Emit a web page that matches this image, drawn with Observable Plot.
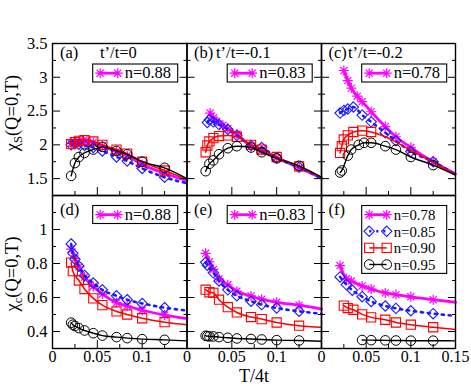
<!DOCTYPE html>
<html>
<head>
<meta charset="utf-8">
<script src="https://cdn.jsdelivr.net/npm/d3@7"></script>
<script src="https://cdn.jsdelivr.net/npm/@observablehq/plot@0.6"></script>
<style>
  html, body { margin: 0; padding: 0; background: #fff; }
  #chart { position: relative; width: 471px; height: 386px; font-family: 'Liberation Serif', serif; }
  #chart svg { position: absolute; left: 0; top: 0; }
  #chart svg, #chart svg text, #chart svg tspan { font-family: 'Liberation Serif', serif !important; }
</style>
</head>
<body>
<div id="chart"></div>
<script>
// ---------- data (T/4t, chi) ----------
// panel (a) t'/t=0, chi_S
const a_mag = [[0.0208,2.02],[0.025,2.04],[0.0294,2.05],[0.0333,2.06],[0.0385,2.06],[0.0455,2.04],[0.0556,1.98],[0.0714,1.90],[0.0833,1.84],[0.1,1.71],[0.125,1.58]];
const a_mag_end = [[0.15,1.47]];
const a_blu = [[0.0208,2.00],[0.025,2.02],[0.0294,2.01],[0.0357,1.99],[0.0455,1.96],[0.0556,1.91],[0.0714,1.82],[0.0833,1.76],[0.1,1.65],[0.125,1.52]];
const a_blu_end = [[0.15,1.43]];
const a_red = [[0.0208,2.01],[0.025,2.04],[0.0294,2.06],[0.0357,2.07],[0.0455,2.05],[0.0556,2.00],[0.0714,1.93],[0.0833,1.87],[0.1,1.75],[0.125,1.62]];
const a_red_end = [[0.15,1.49]];
const a_blk = [[0.0208,1.54],[0.025,1.73],[0.0294,1.82],[0.0357,1.88],[0.0455,1.93],[0.0556,1.97],[0.0714,1.91],[0.0833,1.86],[0.1,1.75],[0.125,1.66]];
const a_blk_end = [[0.15,1.50]];
// panel (b) t'/t=-0.1, chi_S
const b_mag = [[0.0258,2.47],[0.0294,2.40],[0.0333,2.35],[0.04,2.29],[0.0455,2.24],[0.0556,2.16],[0.0714,1.98],[0.0833,1.92],[0.1,1.81],[0.125,1.66]];
const b_mag_end = [[0.15,1.51]];
const b_blu = [[0.0227,2.33],[0.025,2.37],[0.0294,2.34],[0.0357,2.30],[0.0455,2.23],[0.0556,2.14],[0.0714,1.99],[0.0833,1.96],[0.1,1.81],[0.125,1.67]];
const b_blu_end = [[0.15,1.50]];
const b_red = [[0.0208,1.89],[0.0227,1.99],[0.025,2.05],[0.0294,2.10],[0.0357,2.13],[0.0455,2.14],[0.0556,2.12],[0.0714,2.00],[0.0833,1.93],[0.1,1.82],[0.125,1.68]];
const b_red_end = [[0.15,1.52]];
const b_blk = [[0.0208,1.61],[0.025,1.72],[0.0294,1.77],[0.0357,1.86],[0.0455,1.95],[0.0556,1.98],[0.0714,1.96],[0.0833,1.89],[0.1,1.80],[0.125,1.69]];
const b_blk_end = [[0.15,1.52]];
// panel (c) t'/t=-0.2, chi_S
const c_mag = [[0.025,3.10],[0.0294,2.95],[0.0333,2.84],[0.04,2.72],[0.0455,2.64],[0.0556,2.49],[0.0714,2.27],[0.0833,2.12],[0.1,1.96],[0.125,1.75]];
const c_mag_end = [[0.15,1.57]];
const c_blu = [[0.0208,2.47],[0.025,2.51],[0.0294,2.53],[0.0357,2.56],[0.0455,2.44],[0.0556,2.34],[0.0714,2.18],[0.0833,2.06],[0.1,1.90],[0.125,1.75]];
const c_blu_end = [[0.15,1.56]];
const c_red = [[0.0208,1.88],[0.0227,1.98],[0.025,2.08],[0.0294,2.14],[0.0357,2.19],[0.0455,2.21],[0.0556,2.19]];
const c_red_end = [[0.0714,2.12],[0.0833,2.04],[0.1,1.92],[0.125,1.74],[0.15,1.56]];
const c_blk = [[0.0208,1.59],[0.0227,1.62],[0.0294,1.84],[0.0333,1.93],[0.0417,2.00],[0.0476,2.03],[0.0556,2.03],[0.0714,1.98],[0.0833,1.93],[0.1,1.82],[0.125,1.70]];
const c_blk_end = [[0.15,1.55]];
// panel (d) t'/t=0, chi_c
const d_mag = [[0.0208,0.885],[0.025,0.83],[0.0294,0.78],[0.0357,0.72],[0.0455,0.665],[0.0556,0.62],[0.0714,0.57],[0.0833,0.55],[0.1,0.525],[0.125,0.497]];
const d_mag_end = [[0.15,0.476]];
const d_blu = [[0.0208,0.915],[0.0227,0.86],[0.025,0.825],[0.0294,0.785],[0.0357,0.73],[0.0455,0.685],[0.0556,0.645],[0.0714,0.61],[0.0833,0.587],[0.1,0.565],[0.125,0.54]];
const d_blu_end = [[0.15,0.523]];
const d_red = [[0.0208,0.805],[0.0227,0.755],[0.0294,0.70],[0.0357,0.65],[0.0455,0.595],[0.0556,0.555],[0.0714,0.518],[0.0833,0.50],[0.1,0.478],[0.125,0.455]];
const d_red_end = [[0.15,0.44]];
const d_blk = [[0.0208,0.452],[0.0227,0.44],[0.025,0.432],[0.0294,0.42],[0.0357,0.406],[0.0455,0.39],[0.0556,0.376],[0.0714,0.367],[0.0833,0.361],[0.1,0.355],[0.125,0.351]];
const d_blk_end = [[0.15,0.345]];
// panel (e) t'/t=-0.1, chi_c
const e_mag = [[0.0208,0.86],[0.025,0.81],[0.0294,0.765],[0.0357,0.71],[0.0455,0.675],[0.0556,0.637],[0.0714,0.609],[0.0833,0.59],[0.1,0.572],[0.125,0.555]];
const e_mag_end = [[0.15,0.532]];
const e_blu = [[0.0208,0.807],[0.0227,0.79],[0.0294,0.745],[0.0357,0.697],[0.0455,0.645],[0.0556,0.61],[0.0714,0.578],[0.0833,0.558],[0.1,0.538],[0.125,0.519]];
const e_blu_end = [[0.15,0.504]];
const e_red = [[0.0208,0.646],[0.025,0.631],[0.0294,0.627],[0.0357,0.587],[0.0455,0.543],[0.0556,0.512],[0.0714,0.485],[0.0833,0.473],[0.1,0.453],[0.125,0.434]];
const e_red_end = [[0.15,0.425]];
const e_blk = [[0.0208,0.375],[0.0227,0.373],[0.025,0.371],[0.0294,0.371],[0.0357,0.367],[0.0455,0.363],[0.0556,0.359],[0.0714,0.356],[0.0833,0.353],[0.1,0.349],[0.125,0.347]];
const e_blk_end = [[0.15,0.343]];
// panel (f) t'/t=-0.2, chi_c
const f_mag = [[0.0208,0.788],[0.0278,0.71],[0.0333,0.697],[0.0455,0.668],[0.0556,0.65],[0.0714,0.627],[0.0833,0.617],[0.1,0.604],[0.125,0.587]];
const f_mag_end = [[0.15,0.572]];
const f_blu = [[0.0208,0.721],[0.0278,0.676],[0.0345,0.643],[0.0455,0.605],[0.0556,0.577],[0.0714,0.55],[0.0833,0.536],[0.1,0.522],[0.125,0.505]];
const f_blu_end = [[0.15,0.492]];
const f_red = [[0.025,0.552],[0.0294,0.538],[0.0357,0.528],[0.0455,0.501],[0.0556,0.483],[0.0714,0.469],[0.0833,0.453],[0.1,0.44],[0.125,0.425]];
const f_red_end = [[0.15,0.412]];
const f_blk = [[0.0455,0.35],[0.0556,0.349],[0.0714,0.348],[0.0833,0.347],[0.1,0.346],[0.125,0.346]];
const f_blk_end = [[0.15,0.345]];

// ---------- labels and ticks ----------
const panelTags = ["(a)","(b)","(c)","(d)","(e)","(f)"];
const tPrimeLabels = ["t’/t=0","t’/t=-0.1","t’/t=-0.2"];
const legendTopRow = ["n=0.88","n=0.83","n=0.78"];
const legendBottomRow = ["n=0.88","n=0.83"];
const legendAll = ["n=0.78","n=0.85","n=0.90","n=0.95"];
const xDomain = [0, 0.15];
const xMajor = [0.05, 0.1];
const xMinor = [0.025, 0.075, 0.125];
const xLabelsDE = [0, 0.05, 0.1];
const xLabelsF = [0, 0.05, 0.1, 0.15];
const ySDomain = [1.25, 3.5];
const ySMajor = [1.5, 2, 2.5, 3];
const ySMinor = [1.75, 2.25, 2.75, 3.25];
const ySLabels = [1.5, 2, 2.5, 3, 3.5];
const yCDomain = [0.3, 1.2];
const yCMajor = [0.4, 0.6, 0.8, 1.0];
const yCMinor = [0.5, 0.7, 0.9, 1.1];
const yCLabels = [0.4, 0.6, 0.8, 1];

// ---------- symbols & styles ----------
const FONT = "'Liberation Serif', serif";
const symAsterisk = {draw(ctx, size) { const r = Math.sqrt(size / Math.PI), d = r * Math.SQRT1_2;
  ctx.moveTo(-r, 0); ctx.lineTo(r, 0); ctx.moveTo(0, -r); ctx.lineTo(0, r);
  ctx.moveTo(-d, -d); ctx.lineTo(d, d); ctx.moveTo(-d, d); ctx.lineTo(d, -d); }};
const symDiamond = {draw(ctx, size) { const r = Math.sqrt(size / Math.PI);
  ctx.moveTo(0, -r); ctx.lineTo(r, 0); ctx.lineTo(0, r); ctx.lineTo(-r, 0); ctx.closePath(); }};
const symSquare = {draw(ctx, size) { const r = Math.sqrt(size / Math.PI); ctx.rect(-r, -r, 2 * r, 2 * r); }};
const symCircle = {draw(ctx, size) { const r = Math.sqrt(size / Math.PI); ctx.moveTo(r, 0); ctx.arc(0, 0, r, 0, 2 * Math.PI); }};

const styles = [
  {color: "#ff00ff", symbol: symAsterisk, r: 5, sw: 1.2, lw: 2.8, dash: null},
  {color: "#1a1aff", symbol: symDiamond, r: 5.2, sw: 1.1, lw: 2.6, dash: "2.2,4.8"},
  {color: "#ff0000", symbol: symSquare, r: 4.6, sw: 1.1, lw: 1.5, dash: null},
  {color: "#000000", symbol: symCircle, r: 4.8, sw: 1, lw: 1.4, dash: null}
];

const W = 471, H = 386;
const colEdges = [52, 186.5, 321, 455];
const rowEdges = [43, 195, 348];

const panels = [
  {ci: 0, ri: 0, series: [[a_mag, a_mag_end], [a_blu, a_blu_end], [a_red, a_red_end], [a_blk, a_blk_end]]},
  {ci: 1, ri: 0, series: [[b_mag, b_mag_end], [b_blu, b_blu_end], [b_red, b_red_end], [b_blk, b_blk_end]]},
  {ci: 2, ri: 0, series: [[c_mag, c_mag_end], [c_blu, c_blu_end], [c_red, c_red_end], [c_blk, c_blk_end]]},
  {ci: 0, ri: 1, series: [[d_mag, d_mag_end], [d_blu, d_blu_end], [d_red, d_red_end], [d_blk, d_blk_end]]},
  {ci: 1, ri: 1, series: [[e_mag, e_mag_end], [e_blu, e_blu_end], [e_red, e_red_end], [e_blk, e_blk_end]]},
  {ci: 2, ri: 1, series: [[f_mag, f_mag_end], [f_blu, f_blu_end], [f_red, f_red_end], [f_blk, f_blk_end]]}
];

const chart = document.getElementById("chart");
const fmt = d => String(d);

for (const p of panels) {
  const left = colEdges[p.ci], right = colEdges[p.ci + 1];
  const top = rowEdges[p.ri], bottom = rowEdges[p.ri + 1];
  const top_row = p.ri === 0;
  const marks = [];
  p.series.forEach(([pts, tail], k) => {
    const s = styles[k];
    marks.push(Plot.line(pts.concat(tail), {x: d => d[0], y: d => d[1], stroke: s.color, strokeWidth: s.lw,
      strokeDasharray: s.dash || undefined, curve: "monotone-x"}));
    marks.push(Plot.dot(pts, {x: d => d[0], y: d => d[1], symbol: s.symbol, r: s.r, stroke: s.color,
      strokeWidth: s.sw, fill: "none"}));
  });
  const yMaj = top_row ? ySMajor : yCMajor, yMin = top_row ? ySMinor : yCMinor;
  for (const anchor of ["left", "right"]) {
    marks.push(Plot.axisY(yMaj, {anchor, tickSize: -8, fill: "none", stroke: "black", label: null}));
    marks.push(Plot.axisY(yMin, {anchor, tickSize: -4, fill: "none", stroke: "black", label: null}));
  }
  marks.push(Plot.axisX(xMajor, {anchor: "bottom", tickSize: -8, fill: "none", stroke: "black", label: null}));
  marks.push(Plot.axisX(xMinor, {anchor: "bottom", tickSize: -4, fill: "none", stroke: "black", label: null}));
  if (p.ci === 0) {
    marks.push(Plot.axisY(top_row ? ySLabels : yCLabels, {anchor: "left", tickSize: 0, tickPadding: 5,
      fontSize: 16.5, tickFormat: fmt, label: null, fill: "black"}));
  }
  if (!top_row) {
    marks.push(Plot.axisX(p.ci === 2 ? xLabelsF : xLabelsDE, {anchor: "bottom", tickSize: 0, tickPadding: 2,
      fontSize: 16, tickFormat: fmt, label: null, fill: "black"}));
  }
  marks.push(Plot.frame({stroke: "black", strokeWidth: 1.4}));
  const svg = Plot.plot({
    width: W, height: H,
    marginLeft: left, marginRight: W - right, marginTop: top, marginBottom: H - bottom,
    x: {domain: xDomain, axis: null},
    y: {domain: top_row ? ySDomain : yCDomain, axis: null},
    style: {background: "transparent", overflow: "visible", fontFamily: FONT, color: "black"},
    marks
  });
  svg.setAttribute("font-family", FONT);
  chart.appendChild(svg);
}

// ---------- overlay: titles, panel labels, legends ----------
const ov = d3.select(chart).append("svg").attr("width", W).attr("height", H)
  .attr("font-family", FONT).style("font-family", FONT).attr("fill", "black");

function axisTitle(cx, cy, sub) {
  const t = ov.append("text").attr("transform", `translate(${cx},${cy}) rotate(-90)`)
    .attr("text-anchor", "middle").attr("font-size", 18.5);
  t.append("tspan").text("χ");
  t.append("tspan").attr("font-size", 12.5).attr("dy", 4).text(sub);
  t.append("tspan").attr("dy", -4).text("(Q=0,T)");
}
axisTitle(18, 113, "S");
axisTitle(18, 274, "c");
ov.append("text").attr("x", 254).attr("y", 382).attr("text-anchor", "middle").attr("font-size", 18).text("T/4t");

const tagX = [8, 7.5, 7.5];
const tpX = [48, 29.5, 27];
panelTags.forEach((tag, i) => {
  const ci = i % 3, ri = Math.floor(i / 3);
  ov.append("text").attr("x", colEdges[ci] + tagX[ci]).attr("y", ri === 0 ? 58 : 214.5)
    .attr("font-size", 16.5).text(tag);
});
tPrimeLabels.forEach((lab, ci) => {
  ov.append("text").attr("x", colEdges[ci] + tpX[ci]).attr("y", 58).attr("font-size", 16.5).text(lab);
});

function legend(x0, y0, labels, fs, gap) {
  const h = labels.length === 1 ? 18 : labels.length * gap + 1.5;
  ov.append("rect").attr("x", x0).attr("y", y0).attr("width", 85).attr("height", h)
    .attr("fill", "white").attr("stroke", "black").attr("stroke-width", 1.1);
  labels.forEach((lab, i) => {
    const s = styles[i];
    const cy = y0 + 9.2 + i * gap;
    ov.append("line").attr("x1", x0 + 7.5).attr("x2", x0 + 25).attr("y1", cy).attr("y2", cy)
      .attr("stroke", s.color).attr("stroke-width", s.lw).attr("stroke-dasharray", s.dash);
    for (const sx of [x0 + 7.5, x0 + 25]) {
      ov.append("path").attr("transform", `translate(${sx},${cy})`)
        .attr("d", d3.symbol(s.symbol, Math.PI * s.r * s.r)())
        .attr("fill", "none").attr("stroke", s.color).attr("stroke-width", s.sw);
    }
    ov.append("text").attr("x", x0 + 32).attr("y", cy + 5.2).attr("font-size", fs).text(lab);
  });
}
legendTopRow.forEach((lab, ci) => legend(colEdges[ci] + 40.7, 64, [lab], 16.5, 16));
legendBottomRow.forEach((lab, ci) => legend(colEdges[ci] + 40.7, 205.5, [lab], 16.5, 16));
legend(colEdges[2] + 40.7, 205.5, legendAll, 14.8, 16.6);
</script>
</body>
</html>
